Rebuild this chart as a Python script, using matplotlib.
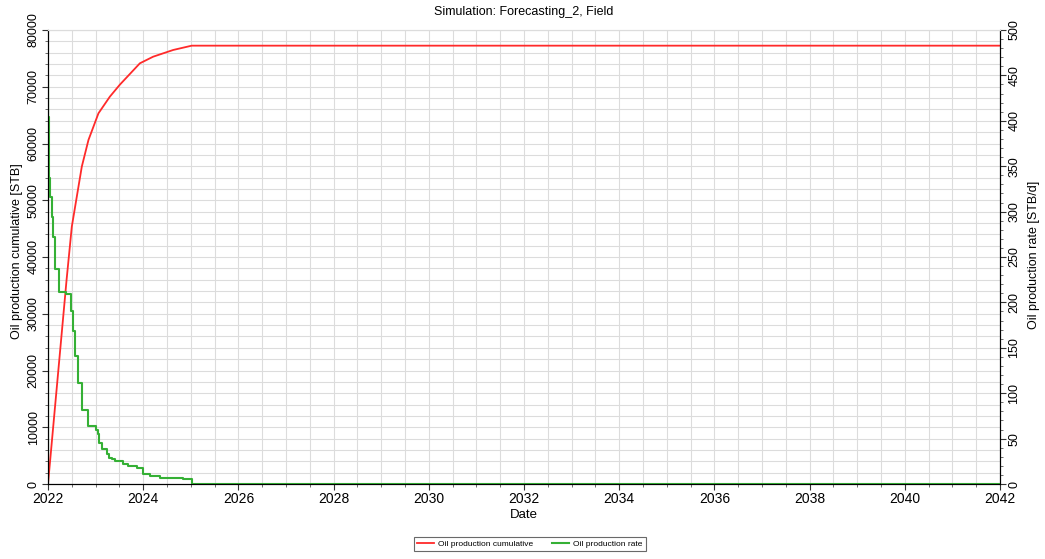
import numpy as np
import matplotlib
matplotlib.use("Agg")
import matplotlib.pyplot as plt
from matplotlib.ticker import MultipleLocator

plt.rcParams['font.family'] = ['Liberation Sans', 'DejaVu Sans']

# cumulative oil production [STB] vs decimal year
cum_years = [2022.0, 2022.39, 2022.50, 2022.71, 2022.85, 2023.06, 2023.30, 2023.51,
             2023.93, 2024.21, 2024.63, 2025.02, 2042.0]
cum_values = [0, 35950, 45340, 55920, 60620, 65320, 68260, 70370,
              74130, 75300, 76480, 77240, 77240]

# oil production rate [STB/d], step values starting at each year
rate_years = [2022.0, 2022.0, 2022.01, 2022.02, 2022.03, 2022.04, 2022.08, 2022.11,
              2022.15, 2022.24, 2022.37, 2022.48, 2022.53, 2022.57, 2022.64,
              2022.71, 2022.85, 2023.00, 2023.04, 2023.07, 2023.14, 2023.23,
              2023.28, 2023.34, 2023.41, 2023.58, 2023.69, 2023.86, 2024.00,
              2024.14, 2024.35, 2024.84, 2025.02, 2042.0]
rate_values = [0, 445, 404, 353, 337, 316, 294, 272,
               237, 212, 209, 191, 169, 141, 111,
               82, 64, 59, 55, 45, 39, 32.5,
               29, 27, 25, 22.5, 20, 17.5, 11,
               9, 7, 5.6, 0, 0]

fig = plt.figure(figsize=(10.45, 5.59), dpi=100)
ax = fig.add_axes([48/1045, 1 - 484/559, 952/1045, 454/559])
ax2 = ax.twinx()

ax.plot(cum_years, cum_values, color='#ff2a2a', lw=1.3, label='Oil production cumulative')
ax2.step(rate_years, rate_values, where='post', color='#35b035', lw=1.5,
         label='Oil production rate')

ax.set_xlim(2022, 2042)
ax.set_ylim(0, 80000)
ax2.set_ylim(0, 500)

ax.xaxis.set_major_locator(MultipleLocator(2))
ax.xaxis.set_minor_locator(MultipleLocator(0.5))
ax.yaxis.set_major_locator(MultipleLocator(10000))
ax.yaxis.set_minor_locator(MultipleLocator(2000))
ax2.yaxis.set_major_locator(MultipleLocator(50))
ax2.yaxis.set_minor_locator(MultipleLocator(10))

ax.grid(True, which='both', color='#dcdcdc', lw=0.8)
ax.set_axisbelow(True)

for a in (ax, ax2):
    a.tick_params(length=4, width=0.8, color='#333333', pad=2)
    a.tick_params(which='minor', length=2, width=0.6, color='#555555')
    a.spines['top'].set_color('#dcdcdc')
ax.tick_params(axis='x', labelsize=10)
ax.tick_params(axis='y', labelsize=9, labelrotation=90)
ax2.tick_params(axis='y', labelsize=9, labelrotation=90)
for lbl in ax.get_yticklabels() + ax2.get_yticklabels():
    lbl.set_va('center')

ax.set_xlabel('Date', fontsize=9.5, labelpad=2)
ax.set_ylabel('Oil production cumulative [STB]', fontsize=9)
ax.yaxis.set_label_coords(-25/952, (484 - 251) / 454)
ax2.set_ylabel('Oil production rate [STB/d]', fontsize=9)
ax2.yaxis.set_label_coords(1 + 28/952, (484 - 255) / 454)
ax.set_title('Simulation: Forecasting_2, Field', fontsize=9, pad=11)

h1, l1 = ax.get_legend_handles_labels()
h2, l2 = ax2.get_legend_handles_labels()
leg = fig.legend(h1 + h2, l1 + l2, loc='center', bbox_to_anchor=(530/1045, 1 - 544/559),
                 ncol=2, fontsize=6, frameon=True, fancybox=False, handlelength=2,
                 handletextpad=0.5, columnspacing=2.3, borderpad=0.4)
leg.get_frame().set_edgecolor('#444444')
leg.get_frame().set_linewidth(0.8)

fig.savefig('out.png', dpi=100)
